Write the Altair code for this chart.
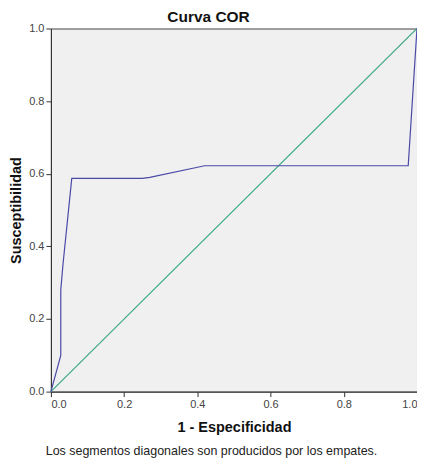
import altair as alt
import pandas as pd

# ROC curve values
fpr = [0.0, 0.027, 0.027, 0.033, 0.057, 0.25, 0.27, 0.42, 0.976, 1.0]
tpr = [0.0, 0.10, 0.28, 0.35, 0.587, 0.587, 0.59, 0.622, 0.622, 1.0]
diag_x = [0.0, 1.0]
diag_y = [0.0, 1.0]
ticks = [0.0, 0.2, 0.4, 0.6, 0.8, 1.0]

title_text = "Curva COR"
x_title = "1 - Especificidad"
y_title = "Susceptibilidad"
footnote = "Los segmentos diagonales son producidos por los empates."

roc = pd.DataFrame({"x": fpr, "y": tpr, "o": list(range(len(fpr)))})
diag = pd.DataFrame({"x": diag_x, "y": diag_y, "o": [0, 1]})
note = pd.DataFrame({"t": [footnote]})
head = pd.DataFrame({"t": [title_text]})

FONT = "Liberation Sans"

xs = alt.Scale(domain=[0, 1], nice=False)
ys = alt.Scale(domain=[0, 1], nice=False)

xaxis = alt.Axis(values=ticks, format=".1f", title=x_title, grid=False,
                 titleFontSize=14.5, titleFontWeight="bold", titleColor="#111",
                 titlePadding=11, labelFontSize=11, labelColor="#444",
                 tickColor="#333", domainColor="#333", tickSize=5,
                 labelFont=FONT, titleFont=FONT)
yaxis = alt.Axis(values=ticks, format=".1f", title=y_title, grid=False,
                 titleFontSize=14.5, titleFontWeight="bold", titleColor="#111",
                 titlePadding=5, labelFontSize=11, labelColor="#444",
                 tickColor="#333", domainColor="#333", tickSize=5,
                 labelFont=FONT, titleFont=FONT)

diag_line = alt.Chart(diag).mark_line(color="#3aa888", strokeWidth=1.2).encode(
    x=alt.X("x:Q", scale=xs, axis=xaxis),
    y=alt.Y("y:Q", scale=ys, axis=yaxis),
    order="o:Q",
)

roc_line = alt.Chart(roc).mark_line(color="#4a4aa6", strokeWidth=1.2).encode(
    x=alt.X("x:Q", scale=xs),
    y=alt.Y("y:Q", scale=ys),
    order="o:Q",
)

note_text = alt.Chart(note).mark_text(
    fontSize=12.5, font=FONT, color="#222", align="center", baseline="middle"
).encode(
    text="t:N",
    x=alt.value(161),
    y=alt.value(424),
)

title_mark = alt.Chart(head).mark_text(
    fontSize=15.5, font=FONT, fontWeight="bold", color="#111",
    align="center", baseline="middle"
).encode(
    text="t:N",
    x=alt.value(158),
    y=alt.value(-12),
)

chart = alt.layer(diag_line, roc_line, note_text, title_mark).properties(
    width=367,
    height=364,
    autosize=alt.AutoSizeParams(type="none"),
    padding={"left": 43, "top": 20, "right": 0, "bottom": 66},
).configure(
    background="white",
    view=alt.ViewConfig(fill="#f0f0f0", stroke="#444", strokeWidth=1),
)

chart.save("out.html", embed_options={"renderer": "svg", "actions": False})
